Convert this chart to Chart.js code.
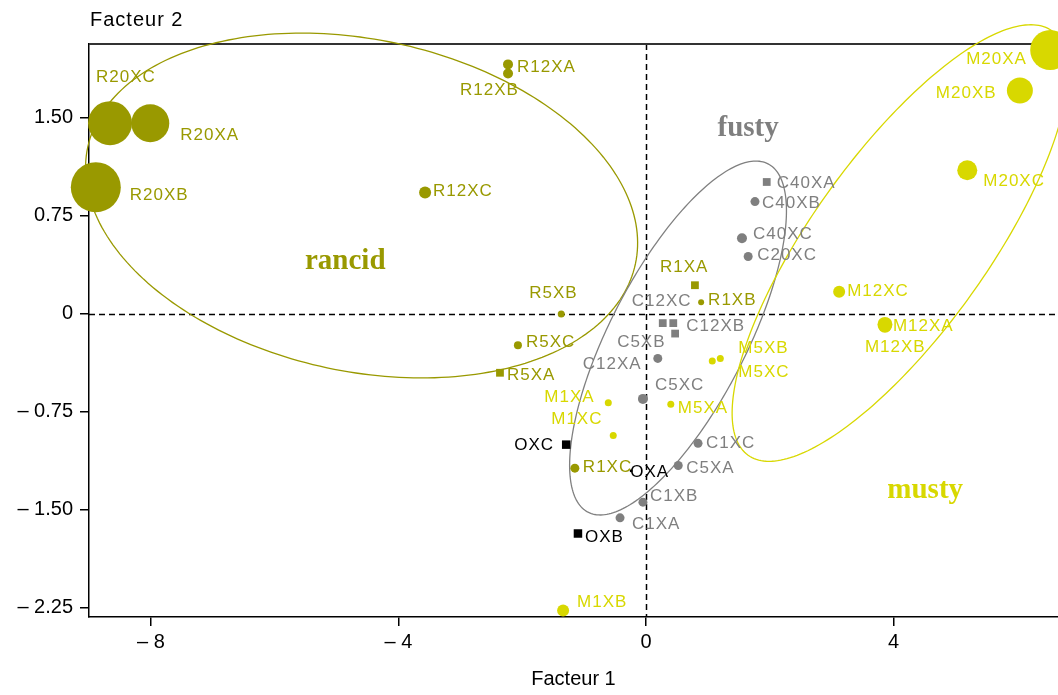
<!DOCTYPE html>
<html>
<head>
<meta charset="utf-8">
<script src="https://cdn.jsdelivr.net/npm/chart.js@4.4.1/dist/chart.umd.min.js"></script>
<style>
  html, body { margin: 0; padding: 0; background: #fff; overflow: hidden; }
  #wrap { width: 1058px; height: 695px; }
</style>
</head>
<body>
<div id="wrap"><canvas id="acpChart" width="1058" height="695"></canvas></div>
<script>
// Scores des échantillons sur les deux premiers facteurs
const rancidNames = ['R20XC', 'R20XA', 'R20XB', 'R12XA', 'R12XB', 'R12XC', 'R5XB', 'R5XC', 'R5XA', 'R1XA', 'R1XB', 'R1XC'];
const rancidF1 = [-8.66, -8.01, -8.89, -2.23, -2.23, -3.57, -1.37, -2.07, -2.36, 0.79, 0.89, -1.15];
const rancidF2 = [1.46, 1.46, 0.97, 1.91, 1.84, 0.93, 0.00, -0.24, -0.45, 0.22, 0.09, -1.18];
const rancidSize = [22, 19, 25, 5, 5, 6, 3.5, 4, 5.5, 5.5, 3, 4.5];

const mustyNames = ['M20XA', 'M20XB', 'M20XC', 'M12XC', 'M12XA', 'M12XB', 'M5XB', 'M5XC', 'M5XA', 'M1XA', 'M1XC', 'M1XB'];
const mustyF1 = [6.53, 6.04, 5.19, 3.12, 3.86, 3.86, 1.07, 1.20, 0.40, -0.61, -0.53, -1.34];
const mustyF2 = [2.02, 1.71, 1.10, 0.17, -0.08, -0.09, -0.36, -0.34, -0.69, -0.68, -0.93, -2.27];
const mustySize = [20, 13, 10, 6, 7.5, 7, 3.5, 3.5, 3.5, 3.5, 3.5, 6];

const fustyNames = ['C40XA', 'C40XB', 'C40XC', 'C20XC', 'C12XC', 'C12XB', 'C5XB', 'C12XA', 'C5XC', 'C1XC', 'C5XA', 'C1XB', 'C1XA'];
const fustyF1 = [1.95, 1.76, 1.55, 1.65, 0.27, 0.44, 0.47, 0.19, -0.05, 0.84, 0.52, -0.05, -0.42];
const fustyF2 = [1.01, 0.86, 0.58, 0.44, -0.07, -0.07, -0.15, -0.34, -0.65, -0.99, -1.16, -1.44, -1.56];
const fustySize = [5.5, 4.5, 5, 4.5, 5.5, 5.5, 5.5, 4.5, 5, 4.5, 4.5, 4.5, 4.5];

const controlNames = ['OXC', 'OXA', 'OXB'];
const controlF1 = [-1.29, -0.24, -1.10];
const controlF2 = [-1.00, -1.20, -1.68];
const controlSize = [6, 1.5, 6];

// Noms des groupes et leur position sur le plan factoriel
const groupNames = ['rancid', 'fusty', 'musty'];
const groupF1 = [-4.86, 1.65, 4.51];
const groupF2 = [0.40, 1.42, -1.35];

// Ellipses : centre + deux demi-axes conjugués (unités des facteurs)
const rancidEllipse = { c: [-4.596, 0.830], u: [4.425, -0.4455], v: [-0.557, -1.242] };
const fustyEllipse = { c: [0.517, -0.184], u: [1.454, 1.333], v: [0.977, -0.239] };
const mustyEllipse = { c: [4.103, 0.543], u: [2.454, 1.624], v: [1.155, -0.392] };

const xTicks = [-8, -4, 0, 4];
const yTicks = [1.5, 0.75, 0, -0.75, -1.5, -2.25];

const OLIVE = '#999900';
const YELLOW = '#d8d800';
const GREY = '#7f7f7f';

// marqueurs carrés
const squareMarks = ['R1XA', 'R5XA', 'C40XA', 'C12XC', 'C12XB', 'C5XB', 'OXC', 'OXB'];

// décalage des étiquettes par rapport au point (px)
const labelOffsets = {
  R20XC: [-14, -46], R20XA: [30, 12], R20XB: [34, 8], R12XA: [9, 3], R12XB: [-48, 17],
  R12XC: [8, -1], R5XB: [-32, -21], R5XC: [8, -3], R5XA: [7, 3], R1XA: [-35, -18],
  R1XB: [7, -2], R1XC: [8, -1],
  M20XA: [-84, 9], M20XB: [-84, 3], M20XC: [16, 11], M12XC: [8, 0], M12XA: [8, 2],
  M12XB: [-20, 22], M5XB: [26, -13], M5XC: [18, 14], M5XA: [7, 4], M1XA: [-64, -6],
  M1XC: [-62, -16], M1XB: [14, -8],
  C40XA: [10, 1], C40XB: [7, 2], C40XC: [11, -4], C20XC: [9, -1], C12XC: [-31, -22],
  C12XB: [13, 3], C5XB: [-58, 9], C12XA: [-75, 6], C5XC: [12, -14], C1XC: [8, 0],
  C5XA: [8, 3], C1XB: [7, -6], C1XA: [12, 6],
  OXC: [-52, 1], OXA: [-1, 2], OXB: [7, 4]
};

// les grosses bulles ne doivent pas rétrécir la zone de tracé
Chart.registry.getController('bubble').prototype.getMaxOverflow = function () { return 0; };

function series(names, f1, f2, size) {
  return names.map((n, i) => ({ x: f1[i], y: f2[i], r: size[i], name: n }));
}

function bubbleSet(label, data, color) {
  return {
    label: label,
    data: data,
    backgroundColor: color,
    borderColor: color,
    borderWidth: 0,
    clip: false,
    labelColor: color,
    pointStyle: (c) => (c.raw && squareMarks.includes(c.raw.name)) ? 'rect' : 'circle'
  };
}

const ellipses = [
  { e: rancidEllipse, color: OLIVE },
  { e: fustyEllipse, color: '#808080' },
  { e: mustyEllipse, color: YELLOW }
];

const factorPlot = {
  id: 'factorPlot',
  beforeDatasetsDraw(chart) {
    const { ctx, chartArea: a, scales: { x, y } } = chart;
    ctx.save();
    // axes du plan (pointillés)
    ctx.strokeStyle = '#000';
    ctx.lineWidth = 1.5;
    ctx.setLineDash([6, 4]);
    ctx.beginPath();
    const x0 = Math.round(x.getPixelForValue(0)) + 0.5;
    const y0 = Math.round(y.getPixelForValue(0)) + 0.5;
    ctx.moveTo(x0, a.top); ctx.lineTo(x0, a.bottom);
    ctx.moveTo(a.left, y0); ctx.lineTo(a.right, y0);
    ctx.stroke();
    ctx.setLineDash([]);

    // cadre du haut
    ctx.strokeStyle = '#333';
    ctx.lineWidth = 2;
    ctx.beginPath();
    ctx.moveTo(a.left, a.top); ctx.lineTo(a.right, a.top);
    ctx.stroke();

    // ellipses de groupe
    ellipses.forEach(({ e, color }) => {
      ctx.strokeStyle = color;
      ctx.lineWidth = 1.3;
      ctx.beginPath();
      for (let i = 0; i <= 240; i++) {
        const t = i / 240 * Math.PI * 2;
        const px = x.getPixelForValue(e.c[0] + e.u[0] * Math.cos(t) + e.v[0] * Math.sin(t));
        const py = y.getPixelForValue(e.c[1] + e.u[1] * Math.cos(t) + e.v[1] * Math.sin(t));
        if (i === 0) ctx.moveTo(px, py); else ctx.lineTo(px, py);
      }
      ctx.closePath();
      ctx.stroke();
    });
    ctx.restore();
  },
  afterDatasetsDraw(chart) {
    const { ctx, scales: { x, y } } = chart;
    ctx.save();
    ctx.font = '17px "Liberation Sans"';
    ctx.letterSpacing = '1px';
    ctx.textAlign = 'left';
    ctx.textBaseline = 'middle';
    chart.data.datasets.forEach((ds, di) => {
      const meta = chart.getDatasetMeta(di);
      ctx.fillStyle = ds.labelColor;
      meta.data.forEach((pt, i) => {
        const name = ds.data[i].name;
        const off = labelOffsets[name] || [8, 0];
        ctx.fillText(name, pt.x + off[0], pt.y + off[1]);
      });
    });

    // noms des groupes
    const groupColors = [OLIVE, GREY, YELLOW];
    ctx.font = 'bold 29px "Liberation Serif"';
    ctx.letterSpacing = '0px';
    ctx.textAlign = 'center';
    groupNames.forEach((g, i) => {
      ctx.fillStyle = groupColors[i];
      ctx.fillText(g, x.getPixelForValue(groupF1[i]), y.getPixelForValue(groupF2[i]));
    });
    ctx.restore();
  },
  afterDraw(chart) {
    const { ctx, chartArea: a } = chart;
    ctx.save();
    ctx.font = '20px "Liberation Sans"';
    ctx.letterSpacing = '1px';
    ctx.fillStyle = '#000';
    ctx.textAlign = 'left';
    ctx.textBaseline = 'middle';
    ctx.fillText('Facteur 2', a.left + 1, 20);
    ctx.restore();
  }
};

const rancidSet = bubbleSet('rancid', series(rancidNames, rancidF1, rancidF2, rancidSize), OLIVE);
const mustySet = bubbleSet('musty', series(mustyNames, mustyF1, mustyF2, mustySize), YELLOW);
const fustySet = bubbleSet('fusty', series(fustyNames, fustyF1, fustyF2, fustySize), GREY);
const controlSet = bubbleSet('control', series(controlNames, controlF1, controlF2, controlSize), '#000');

const fmt = (v, digits) => {
  if (v === 0) return '0';
  const s = digits ? Math.abs(v).toFixed(digits) : String(Math.abs(v));
  return (v < 0 ? '\u2013 ' : '') + s;
};

new Chart(document.getElementById('acpChart'), {
  type: 'bubble',
  data: { datasets: [fustySet, controlSet, rancidSet, mustySet] },
  options: {
    responsive: false,
    devicePixelRatio: 1,
    animation: false,
    events: [],
    layout: { padding: { top: 44, left: 0, right: 0, bottom: 0 } },
    plugins: { legend: { display: false }, tooltip: { enabled: false } },
    scales: {
      x: {
        type: 'linear',
        min: -9.0,
        max: 6.656,
        afterBuildTicks: (s) => { s.ticks = xTicks.map(v => ({ value: v })); },
        afterFit: (s) => { s.height = 78; },
        border: { color: '#000', width: 1.5 },
        grid: { drawOnChartArea: false, drawTicks: true, tickLength: 9, color: '#000', lineWidth: 1.5 },
        ticks: {
          color: '#000',
          padding: 4,
          maxRotation: 0,
          font: { family: '"Liberation Sans"', size: 20 },
          callback: (v) => fmt(v, 0)
        },
        title: {
          display: true,
          text: 'Facteur 1',
          color: '#000',
          font: { family: '"Liberation Sans"', size: 20 },
          padding: { top: 4, bottom: 4 }
        }
      },
      y: {
        type: 'linear',
        min: -2.319,
        max: 2.066,
        afterBuildTicks: (s) => { s.ticks = yTicks.map(v => ({ value: v })); },
        afterFit: (s) => { s.width = 89; },
        border: { color: '#000', width: 1.5 },
        grid: { drawOnChartArea: false, drawTicks: true, tickLength: 9, color: '#000', lineWidth: 1.5 },
        ticks: {
          color: '#000',
          padding: 7,
          font: { family: '"Liberation Sans"', size: 20 },
          callback: (v) => fmt(v, 2)
        }
      }
    }
  },
  plugins: [factorPlot]
});
</script>
</body>
</html>
